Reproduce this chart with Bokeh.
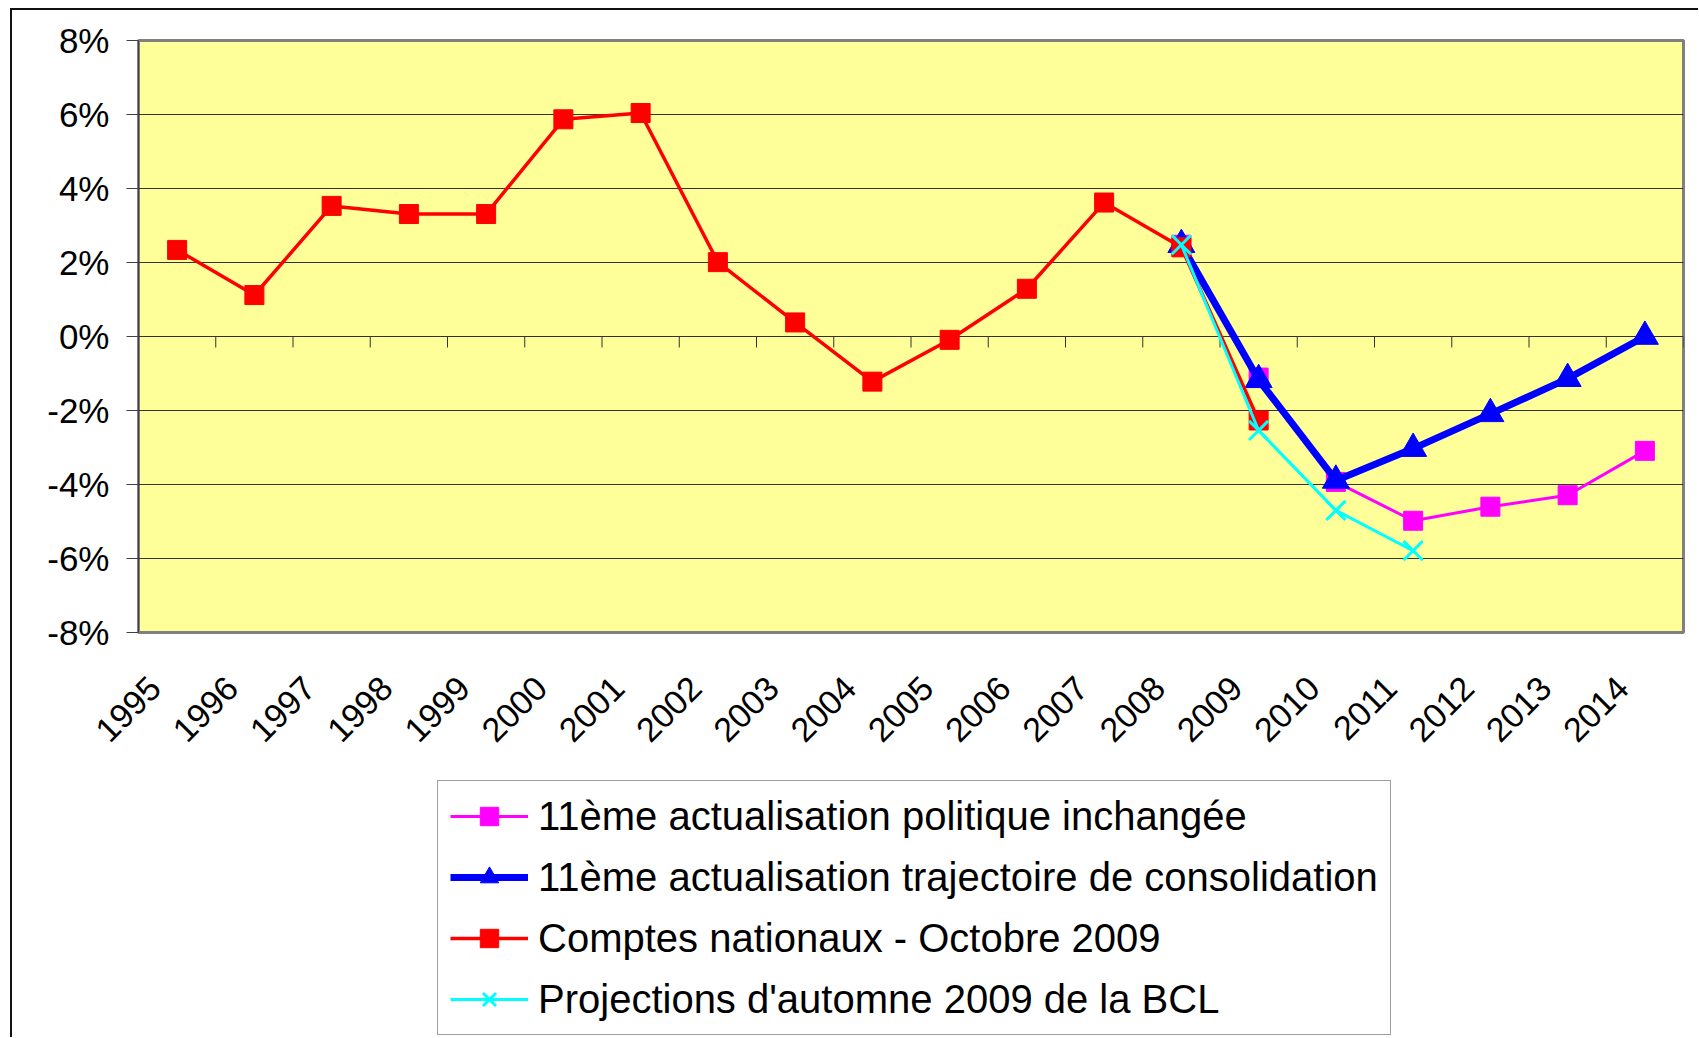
import math
from bokeh.plotting import figure
from bokeh.layouts import column
from bokeh.models import FixedTicker, Range1d, Legend, LegendItem
from bokeh.embed import file_html
from bokeh.resources import INLINE

# ---- data -------------------------------------------------------------
years = [str(y) for y in range(1995, 2015)]

comptes_years = [str(y) for y in range(1995, 2010)]
comptes = [2.34, 1.12, 3.53, 3.31, 3.31, 5.87, 6.04, 2.01, 0.38, -1.22,
           -0.09, 1.29, 3.62, 2.41, -2.27]

pol_years = [str(y) for y in range(2008, 2015)]
politique = [2.48, -1.11, -3.93, -4.98, -4.60, -4.29, -3.09]

traj_years = [str(y) for y in range(2008, 2015)]
trajectoire = [2.48, -1.17, -3.89, -3.03, -2.09, -1.14, 0.0]

bcl_years = [str(y) for y in range(2008, 2012)]
bcl = [2.48, -2.54, -4.70, -5.79]

y_ticks = [-8, -6, -4, -2, 0, 2, 4, 6, 8]

labels = ["11ème actualisation politique inchangée",
          "11ème actualisation trajectoire de consolidation",
          "Comptes nationaux - Octobre 2009",
          "Projections d'automne 2009 de la BCL"]

# ---- styles -------------------------------------------------------------
FONT = "Liberation Sans"
series_style = {
    "pol":  dict(color="#FF00FF", lw=3,   marker="square",   size=19),
    "traj": dict(color="#0000FF", lw=7,   marker="triangle", size=27),
    "cpt":  dict(color="#FF0000", lw=3.5, marker="square",   size=19),
    "bcl":  dict(color="#00FFFF", lw=3,   marker="x",        size=27),
}

# ---- layout constants --------------------------------------------------
W, H1, H2 = 1686, 760, 267
ML, MT, MR = 126, 30, 15
MB = H1 - 622
LABEL_SHIFT = 0.285   # rotated year labels sit slightly left of the category centre

def xpos(ys):
    return [years.index(y) + 0.5 for y in ys]

p = figure(width=W, height=H1, output_backend="svg", toolbar_location=None,
           x_range=Range1d(0, len(years)), y_range=Range1d(-8, 8),
           min_border_left=ML, min_border_top=MT, min_border_right=MR,
           min_border_bottom=MB)

p.background_fill_color = "#FFFF99"
p.border_fill_color = "white"
p.outline_line_color = "#808080"
p.outline_line_width = 3

# y axis
p.yaxis.ticker = FixedTicker(ticks=y_ticks)
p.yaxis.major_label_overrides = {t: f"{t}%" for t in y_ticks}
p.yaxis.major_label_text_font = FONT
p.yaxis.major_label_text_font_size = "35px"
p.yaxis.major_label_text_color = "black"
p.yaxis.major_tick_out = 12
p.yaxis.major_tick_in = 0
p.yaxis.minor_tick_line_color = None
p.yaxis.axis_line_color = "#404040"
p.yaxis.major_tick_line_color = "#404040"
p.yaxis.major_label_standoff = 17

# x axis
label_pos = [i + 0.5 - LABEL_SHIFT for i in range(len(years))]
p.xaxis.ticker = FixedTicker(ticks=label_pos)
p.xaxis.major_label_overrides = {c: y for c, y in zip(label_pos, years)}
p.xaxis.major_label_orientation = math.pi / 4
p.xaxis.major_label_text_font = FONT
p.xaxis.major_label_text_font_size = "34px"
p.xaxis.major_label_text_color = "black"
p.xaxis.axis_line_color = None
p.xaxis.major_tick_line_color = None
p.xaxis.minor_tick_line_color = None
p.xaxis.major_label_standoff = 44

p.xgrid.grid_line_color = None
p.ygrid.ticker = FixedTicker(ticks=y_ticks)
p.ygrid.grid_line_color = "#333333"
p.ygrid.grid_line_width = 1

# category tick marks hanging below the 0% line
frame_h = H1 - MT - MB
tick_len = 11 * 16 / frame_h
bounds = list(range(1, len(years) + 1))
p.segment(x0=bounds, x1=bounds, y0=[0] * len(bounds), y1=[-tick_len] * len(bounds),
          line_color="#333333", line_width=1)

def draw(fig, key, xs, ys):
    s = series_style[key]
    ln = fig.line(xs, ys, line_color=s["color"], line_width=s["lw"])
    if s["marker"] == "x":
        mk = fig.scatter(xs, ys, marker="x", size=s["size"],
                         line_color=s["color"], line_width=s["lw"])
    else:
        mk = fig.scatter(xs, ys, marker=s["marker"], size=s["size"],
                         fill_color=s["color"], line_color=s["color"])
    return [ln, mk]

series = [("pol", pol_years, politique), ("traj", traj_years, trajectoire),
          ("cpt", comptes_years, comptes), ("bcl", bcl_years, bcl)]
for key, ys_, vals in series:
    draw(p, key, xpos(ys_), vals)

# ---- legend panel (second figure holding only the legend) ---------------
# same series, drawn in a range where they stay out of view; only the legend shows
p2 = figure(width=W, height=H2, output_backend="svg", toolbar_location=None,
            x_range=Range1d(0, len(years)), y_range=Range1d(100, 101),
            min_border=0, min_border_left=0, min_border_right=0,
            min_border_top=0, min_border_bottom=0)
p2.xaxis.visible = False
p2.yaxis.visible = False
p2.grid.grid_line_color = None
p2.outline_line_color = None
p2.background_fill_color = "white"
p2.border_fill_color = "white"

items = []
for (key, ys_, vals), lab in zip(series, labels):
    items.append(LegendItem(label=lab, renderers=draw(p2, key, xpos(ys_), vals)))

# frames of the column are aligned, so x is measured from the chart frame's left edge
legend = Legend(items=items, location=(299, 2))
legend.label_text_font = FONT
legend.label_text_font_size = "40px"
legend.label_text_color = "black"
legend.glyph_width = 78
legend.glyph_height = 46
legend.label_height = 46
legend.label_standoff = 10
legend.padding = 12
legend.spacing = 15
legend.margin = 0
legend.border_line_color = "#404040"
legend.border_line_width = 1.5
legend.background_fill_color = "white"
legend.background_fill_alpha = 1
p2.add_layout(legend, "center")

layout = column(p, p2, spacing=0,
                styles={"margin-left": "10px", "margin-top": "8px",
                        "border-left": "2px solid #111111",
                        "border-top": "2px solid #111111"})

open("out.html", "w").write(file_html(layout, INLINE))
